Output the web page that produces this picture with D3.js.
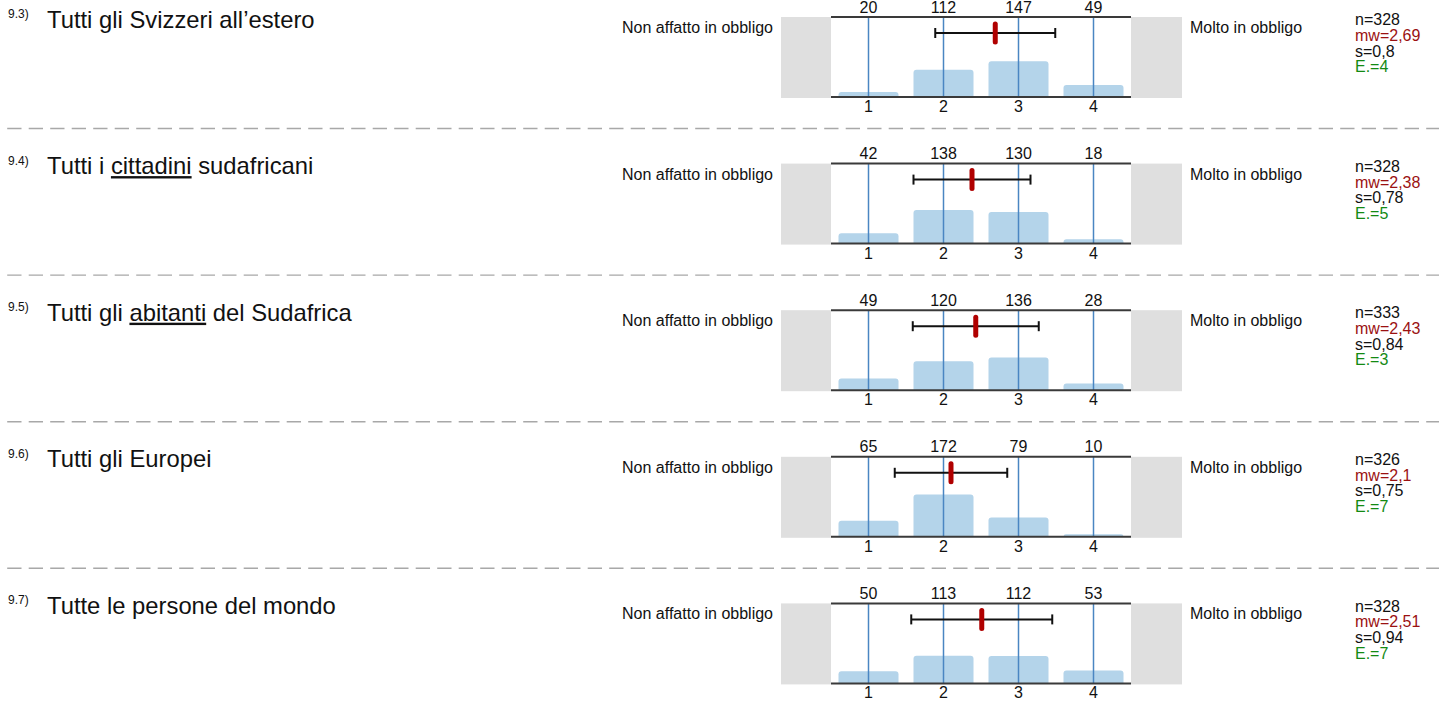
<!DOCTYPE html>
<html><head><meta charset="utf-8">
<script src="https://cdn.jsdelivr.net/npm/d3@7"></script>
<style>
html,body{margin:0;padding:0;background:#fff;}
svg{display:block;font-family:"Liberation Sans",Arial,sans-serif;}
</style></head>
<body>
<svg id="chart" width="1439" height="704"></svg>
<script>
// ---- data ----
const itemNumbers = ["9.3)", "9.4)", "9.5)", "9.6)", "9.7)"];
const titleParts = [
  ["Tutti gli Svizzeri all\u2019estero", "", ""],
  ["Tutti i ", "cittadini", " sudafricani"],
  ["Tutti gli ", "abitanti", " del Sudafrica"],
  ["Tutti gli Europei", "", ""],
  ["Tutte le persone del mondo", "", ""]
];
const categories = [1, 2, 3, 4];
const counts = [
  [20, 112, 147, 49],
  [42, 138, 130, 18],
  [49, 120, 136, 28],
  [65, 172, 79, 10],
  [50, 113, 112, 53]
];
const nValues = [328, 328, 333, 326, 328];
const means = [2.69, 2.38, 2.43, 2.1, 2.51];
const sds = [0.8, 0.78, 0.84, 0.75, 0.94];
const abstentions = [4, 5, 3, 7, 7];
const leftLabel = "Non affatto in obbligo";
const rightLabel = "Molto in obbligo";

// ---- layout ----
const svg = d3.select("#chart");
const rowStep = 146.6;
const panelTop = 17, panelBottom = 97;
const x = d3.scaleLinear().domain([0.5, 4.5]).range([831, 1131]);
const y = d3.scaleLinear().domain([0, 1]).range([panelBottom, panelTop]);
const barW = (x(2) - x(1)) * 0.8;
const fmt = v => String(v).replace(".", ",");

function topRoundedRect(x0, y0, w, h, r) {
  r = Math.min(r, h, w / 2);
  return `M${x0},${y0 + h}V${y0 + r}Q${x0},${y0} ${x0 + r},${y0}H${x0 + w - r}Q${x0 + w},${y0} ${x0 + w},${y0 + r}V${y0 + h}Z`;
}

counts.forEach((row, i) => {
  const g = svg.append("g").attr("transform", `translate(0,${i * rowStep})`);

  // item number + title
  g.append("text").attr("x", 8).attr("y", 18).attr("font-size", 12).attr("fill", "#111").text(itemNumbers[i]);
  const t = g.append("text").attr("x", 47).attr("y", 27.5).attr("font-size", 23.8).attr("fill", "#111");
  t.append("tspan").text(titleParts[i][0]);
  if (titleParts[i][1]) t.append("tspan").attr("text-decoration", "underline").text(titleParts[i][1]);
  if (titleParts[i][2]) t.append("tspan").text(titleParts[i][2]);

  // side gray boxes
  g.append("rect").attr("x", 781).attr("y", panelTop).attr("width", x.range()[0] - 781).attr("height", panelBottom - panelTop + 1).attr("fill", "#dfdfdf");
  g.append("rect").attr("x", x.range()[1]).attr("y", panelTop).attr("width", 1182 - x.range()[1]).attr("height", panelBottom - panelTop + 1).attr("fill", "#dfdfdf");

  // side labels
  g.append("text").attr("x", 773).attr("y", 33).attr("text-anchor", "end").attr("font-size", 16).attr("fill", "#111").text(leftLabel);
  g.append("text").attr("x", 1190).attr("y", 33).attr("font-size", 16).attr("fill", "#111").text(rightLabel);

  // bars
  const n = nValues[i];
  g.selectAll("path.bar").data(row).enter().append("path").attr("class", "bar")
    .attr("d", (d, k) => topRoundedRect(x(categories[k]) - barW / 2, y(d / n), barW, y(0) - y(d / n), 3))
    .attr("fill", "#b4d4ea");

  // vertical category lines
  g.selectAll("line.cat").data(categories).enter().append("line").attr("class", "cat")
    .attr("x1", d => x(d)).attr("x2", d => x(d)).attr("y1", panelTop).attr("y2", panelBottom)
    .attr("stroke", "#4a86c2").attr("stroke-width", 1.5);

  // top / bottom axis lines
  [panelTop, panelBottom].forEach(yy => {
    g.append("line").attr("x1", x.range()[0]).attr("x2", x.range()[1]).attr("y1", yy).attr("y2", yy)
      .attr("stroke", "#3a3a3a").attr("stroke-width", 2);
  });

  // counts above
  g.selectAll("text.cnt").data(row).enter().append("text").attr("class", "cnt")
    .attr("x", (d, k) => x(categories[k])).attr("y", 12.5).attr("text-anchor", "middle")
    .attr("font-size", 16).attr("fill", "#111").text(d => d);

  // tick labels below
  g.selectAll("text.tick").data(categories).enter().append("text").attr("class", "tick")
    .attr("x", d => x(d)).attr("y", 112).attr("text-anchor", "middle")
    .attr("font-size", 16).attr("fill", "#111").text(d => d);

  // error bar
  const ey = panelTop + 16;
  const lo = means[i] - sds[i], hi = means[i] + sds[i];
  g.append("line").attr("x1", x(lo)).attr("x2", x(hi)).attr("y1", ey).attr("y2", ey).attr("stroke", "#111").attr("stroke-width", 2);
  [lo, hi].forEach(v => g.append("line").attr("x1", x(v)).attr("x2", x(v)).attr("y1", ey - 5).attr("y2", ey + 5).attr("stroke", "#111").attr("stroke-width", 2));
  g.append("rect").attr("x", x(means[i]) - 2.5).attr("y", ey - 11.5).attr("width", 5).attr("height", 23)
    .attr("rx", 2.5).attr("fill", "#b00000");

  // stats
  const stats = [
    ["n=" + n, "#111"],
    ["mw=" + fmt(means[i]), "#9b1111"],
    ["s=" + fmt(sds[i]), "#111"],
    ["E.=" + abstentions[i], "#138a13"]
  ];
  stats.forEach((s, k) => {
    g.append("text").attr("x", 1355).attr("y", 25.3 + k * 15.65).attr("font-size", 16).attr("fill", s[1]).text(s[0]);
  });

  // dashed separator
  if (i < counts.length - 1) {
    g.append("line").attr("x1", 0).attr("x2", 1439).attr("y1", 128.5).attr("y2", 128.5)
      .attr("stroke", "#a8a8a8").attr("stroke-width", 1.4).attr("stroke-dasharray", "14.3,7.2").attr("stroke-dashoffset", 14.3);
  }
});
</script>
</body></html>
